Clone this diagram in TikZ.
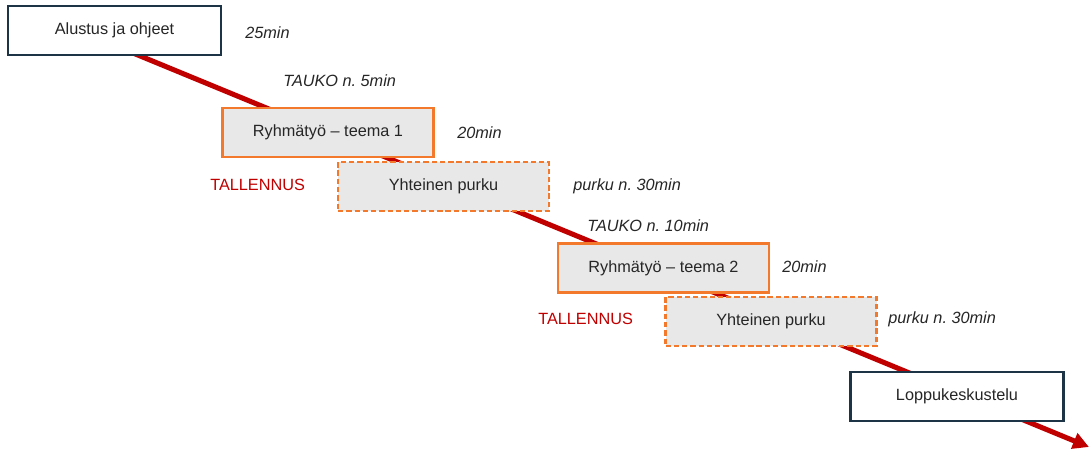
\documentclass[tikz,border=0pt]{standalone}
\usepackage{fontspec}
\setmainfont{Liberation Sans}
\usetikzlibrary{arrows.meta}
\frenchspacing
\definecolor{navy}{HTML}{1C3445}
\definecolor{ornge}{HTML}{F37A2C}
\definecolor{boxgray}{HTML}{E8E8E8}
\definecolor{lred}{HTML}{C00000}
\definecolor{txt}{HTML}{262626}
\begin{document}
\begin{tikzpicture}[x=0.75pt,y=-0.75pt,
  every node/.style={font=\fontsize{12.2}{14}\selectfont, text=txt},
  endbox/.style={draw=navy, line width=1.6pt, fill=white, minimum width=159.75pt, minimum height=36.75pt, inner sep=0pt},
  workbox/.style={draw=ornge, line width=1.6pt, fill=boxgray, minimum width=158.25pt, minimum height=36.75pt, inner sep=0pt},
  talkbox/.style={workbox, dash pattern=on 4pt off 2.2pt},
  timenote/.style={anchor=west, inner sep=0pt, font=\fontsize{12.2}{14}\selectfont\itshape},
  recnote/.style={anchor=west, inner sep=0pt, text=lred},
  flow/.style={draw=lred, line width=3.8pt, -{Triangle[length=12pt,width=12pt]}}]
\useasboundingbox (0,0) rectangle (1089,450);

% timeline path endpoints
\coordinate (start) at (116,46);
\coordinate (finish) at (1089,447);

\draw[flow] (start) -- (finish);

% activity boxes
\node[endbox]   (intro) at (114.5,30.5)  {Alustus ja ohjeet};
\node[workbox]  (work1) at (328,132.5)   {Ryhmätyö – teema 1};
\node[talkbox]  (disc1) at (443.5,186.5) {Yhteinen purku};
\node[workbox]  (work2) at (663.5,268)   {Ryhmätyö – teema 2};
\node[talkbox]  (disc2) at (771,321.5)   {Yhteinen purku};
\node[endbox]   (final) at (957,396.5)   {Loppukeskustelu};

% durations and notes
\node[timenote] (t1) at (245,33)  {25min};
\node[timenote] (t2) at (283,81)  {TAUKO n. 5min};
\node[timenote] (t3) at (457,133) {20min};
\node[recnote]  (r1) at (210,185) {TALLENNUS};
\node[timenote] (t4) at (573,186) {purku n. 30min};
\node[timenote] (t5) at (587,226) {TAUKO n. 10min};
\node[timenote] (t6) at (782,267) {20min};
\node[recnote]  (r2) at (538,319) {TALLENNUS};
\node[timenote] (t7) at (888,319) {purku n. 30min};
\end{tikzpicture}
\end{document}
